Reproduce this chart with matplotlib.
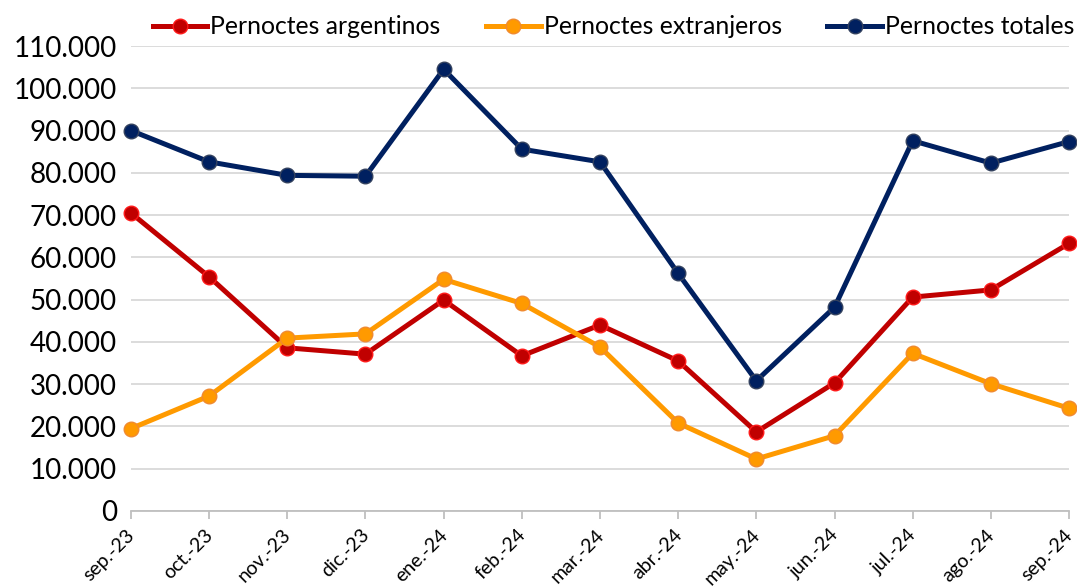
import matplotlib
matplotlib.use("Agg")
import matplotlib.pyplot as plt
import matplotlib.transforms as mtransforms
from matplotlib.ticker import FuncFormatter, MultipleLocator

plt.rcParams["font.family"] = ["Lato", "DejaVu Sans"]

months = ["sep.-23", "oct.-23", "nov.-23", "dic.-23", "ene.-24", "feb.-24", "mar.-24",
          "abr.-24", "may.-24", "jun.-24", "jul.-24", "ago.-24", "sep.-24"]
argentinos = [70500, 55400, 38600, 37100, 49900, 36700, 44000, 35500, 18700, 30300, 50600, 52300, 63300]
extranjeros = [19500, 27200, 40900, 41900, 54800, 49100, 38800, 20800, 12300, 17800, 37300, 30100, 24300]
totales = [90000, 82600, 79400, 79200, 104500, 85600, 82600, 56200, 30800, 48200, 87600, 82300, 87400]

fig = plt.figure(figsize=(10.77, 5.87), dpi=100)
ax = fig.add_axes([0.1216, 0.1295, 0.871, 0.7921])

x = range(len(months))
series = [
    ("Pernoctes argentinos", argentinos, "#C00000", "#FF1A1A"),
    ("Pernoctes extranjeros", extranjeros, "#FF9A00", "#F08A30"),
    ("Pernoctes totales", totales, "#002060", "#33415E"),
]
for label, vals, col, edge in series:
    ax.plot(x, vals, color=col, lw=3.6, marker="o", ms=10.5,
            markerfacecolor=col, markeredgecolor=edge, markeredgewidth=1,
            label=label, zorder=3, clip_on=False)

ax.set_xlim(0, len(months) - 1)
ax.set_ylim(0, 110000)
ax.yaxis.set_major_locator(MultipleLocator(10000))
ax.yaxis.set_major_formatter(FuncFormatter(lambda v, p: f"{int(v):,}".replace(",", ".")))
ax.grid(axis="y", color="#D9D9D9", lw=1.3)
ax.set_axisbelow(True)

for s in ["top", "right", "left"]:
    ax.spines[s].set_visible(False)
ax.spines["bottom"].set_color("#BFBFBF")
ax.spines["bottom"].set_linewidth(1.3)

ax.set_xticks(list(x))
ax.set_xticklabels(months, rotation=45, ha="right", rotation_mode="anchor", fontsize=14)
ax.tick_params(axis="x", length=6, color="#BFBFBF", width=1.3, pad=5)
ax.tick_params(axis="y", length=0, labelsize=20, pad=10)

# nudge rotated labels a bit left so the last one stays inside the figure
shift = mtransforms.ScaledTranslation(-5 / 100, 0, fig.dpi_scale_trans)
for lbl in ax.get_xticklabels():
    lbl.set_transform(lbl.get_transform() + shift)

fig.legend(loc="upper center", bbox_to_anchor=(0.5696, 1.012), ncol=3, frameon=False,
           fontsize=17.8, handlelength=2.2, columnspacing=1.85, handletextpad=0.12)

fig.savefig("out.png", dpi=100)
